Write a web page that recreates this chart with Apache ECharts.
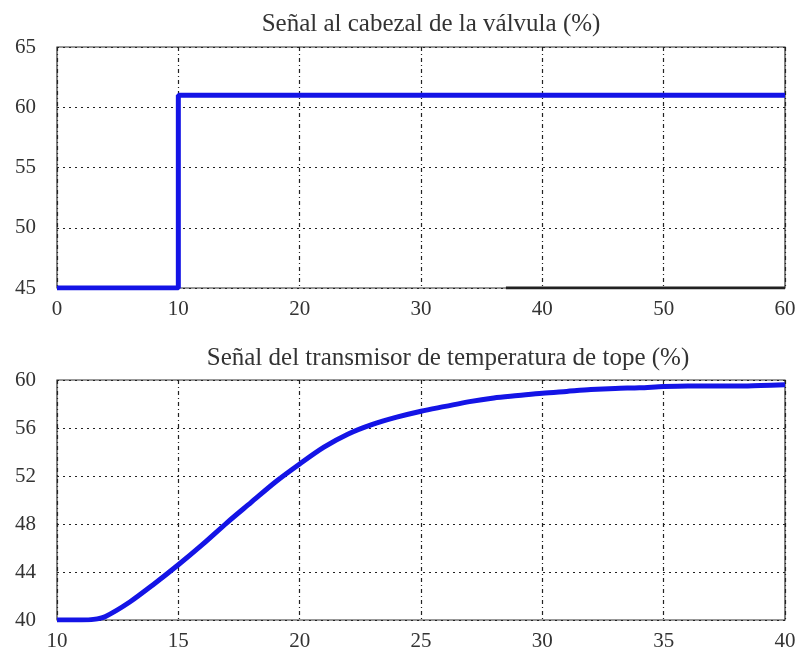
<!DOCTYPE html>
<html lang="es">
<head>
    <meta charset="UTF-8">
    <title>Señales</title>
    <style>
        html, body { margin: 0; padding: 0; background: #fff; }
        #main { width: 808px; height: 654px; }
    </style>
    <script src="https://cdn.jsdelivr.net/npm/echarts@6/dist/echarts.min.js"></script>
</head>
<body>
    <div id="main"></div>
    <script>
        // señal al cabezal de la válvula
        let valveT = [0, 10, 10, 60];
        let valveY = [45, 45, 61, 61];
        // tramo negro sobre el eje inferior
        let baseT = [37, 60];
        let baseY = [45, 45];
        // señal del transmisor de temperatura
        let tempT = [10, 11, 11.5, 12, 13, 14, 15, 16, 17, 18, 19, 20, 21, 22, 23, 24, 25, 26, 27, 28, 29, 30, 31, 32, 33, 34, 35, 36, 37, 38, 39, 40];
        let tempY = [40, 40, 40.05, 40.3, 41.5, 43, 44.6, 46.3, 48.1, 49.8, 51.5, 53, 54.4, 55.5, 56.3, 56.9, 57.4, 57.8, 58.2, 58.5, 58.7, 58.9, 59.05, 59.2, 59.3, 59.35, 59.45, 59.5, 59.5, 59.5, 59.55, 59.6];

        let topTicks = [0, 60, 10];
        let topY = [45, 65, 5];
        let botTicks = [10, 40, 5];
        let botY = [40, 60, 4];

        function pairs(xs, ys) {
            let out = [];
            for (let i = 0; i < xs.length; i++) out.push([xs[i], ys[i]]);
            return out;
        }

        let font = 'Liberation Serif';
        let lbl = { color: '#333', fontFamily: font, fontSize: 21 };

        function xAxis(idx, t) {
            return {
                type: 'value', gridIndex: idx, min: t[0], max: t[1], interval: t[2],
                axisLine: { show: false },
                axisTick: { show: false },
                axisLabel: Object.assign({ margin: 11 }, lbl),
                splitLine: { show: true, lineStyle: { color: '#222', width: 1.2, type: [4, 3, 1, 3] } }
            };
        }
        function yAxis(idx, t) {
            return {
                type: 'value', gridIndex: idx, min: t[0], max: t[1], interval: t[2],
                axisLine: { show: false },
                axisTick: { show: false },
                axisLabel: Object.assign({ margin: 21 }, lbl),
                splitLine: { show: true, lineStyle: { color: '#222', width: 1.2, type: [2, 4] } }
            };
        }

        let chart = echarts.init(document.getElementById('main'));
        let option = {
            backgroundColor: '#fff',
            animation: false,
            title: [
                { text: 'Señal al cabezal de la válvula (%)', left: 426, top: 7, textAlign: 'center',
                  textStyle: { fontFamily: font, fontSize: 25, fontWeight: 'normal', color: '#333' } },
                { text: 'Señal del transmisor de temperatura de tope (%)', left: 443, top: 341, textAlign: 'center',
                  textStyle: { fontFamily: font, fontSize: 25, fontWeight: 'normal', color: '#333' } }
            ],
            grid: [
                { left: 57, right: 23, top: 47, height: 241, show: true, borderColor: '#333', borderWidth: 1.2 },
                { left: 57, right: 23, top: 380, height: 240, show: true, borderColor: '#333', borderWidth: 1.2 }
            ],
            xAxis: [xAxis(0, topTicks), xAxis(1, botTicks)],
            yAxis: [yAxis(0, topY), yAxis(1, botY)],
            series: [
                {
                    type: 'line', xAxisIndex: 0, yAxisIndex: 0, data: pairs(baseT, baseY),
                    showSymbol: false, lineStyle: { color: '#222', width: 3 }, z: 3
                },
                {
                    type: 'line', xAxisIndex: 0, yAxisIndex: 0, data: pairs(valveT, valveY),
                    showSymbol: false, lineStyle: { color: '#1414e6', width: 5 }, z: 4
                },
                {
                    type: 'line', xAxisIndex: 1, yAxisIndex: 1, data: pairs(tempT, tempY),
                    showSymbol: false, smooth: 0.3, lineStyle: { color: '#1414e6', width: 5 }, z: 4
                }
            ]
        };
        chart.setOption(option);
    </script>
</body>
</html>
